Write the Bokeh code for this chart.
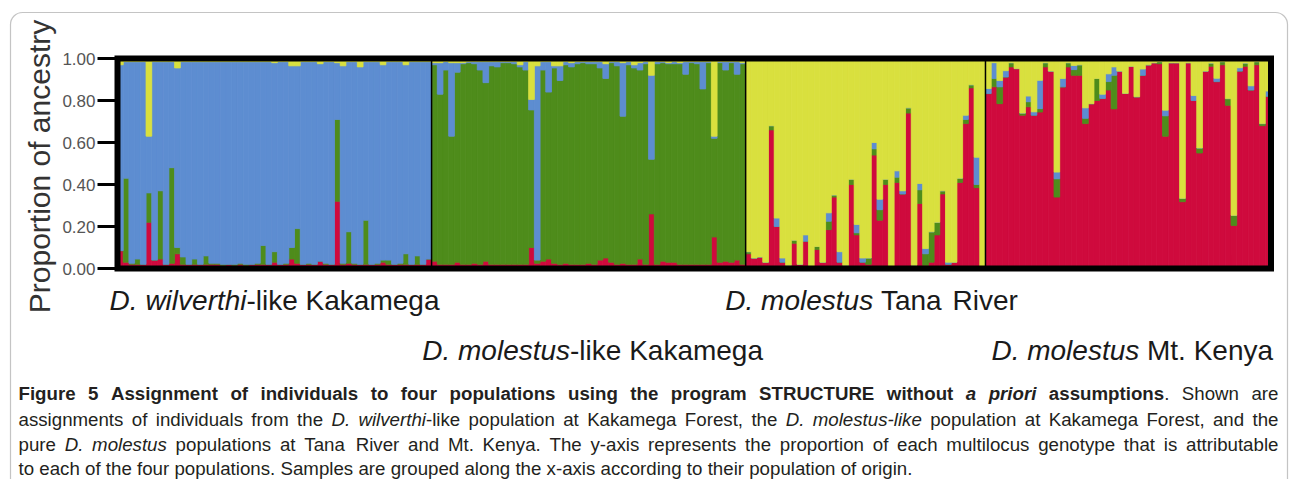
import numpy as np
from bokeh.plotting import figure
from bokeh.models import ColumnDataSource, Range1d, BoxAnnotation
from bokeh.core.properties import value
from bokeh.embed import file_html
from bokeh.resources import INLINE

# ---------------- data (ancestry proportions per individual) ----------------
POP_LABELS = [[("D. wilverthi", "i"), ("-like Kakamega", "r")],
              [("D. molestus", "i"), ("-like Kakamega", "r")],
              [("D. molestus", "i"), (" Tana River", "r")],
              [("D. molestus", "i"), (" Mt. Kenya", "r")]]
CLUSTERS = ["red", "green", "blue", "yellow"]   # stacking order, bottom -> top
TICKS = [0.0, 0.2, 0.4, 0.6, 0.8, 1.0]
TICK_LABELS = ["0.00", "0.20", "0.40", "0.60", "0.80", "1.00"]
Y_TITLE = "Proportion of ancestry"

# Population 1: D. wilverthi-like Kakamega (blue = remainder)
wil_red = [.085, .030, .020, .020, .020, .220, .040, .045, .020, .025, .070, .020, .020, .020,
           .020, .020, .020, .020, .015, .020, .015, .020, .015, .020, .020, .020, .020, .030,
           .020, .020, .045, .025, .020, .020, .020, .035, .020, .020, .320, .020, .025, .020,
           .020, .020, .020, .020, .030, .020, .020, .020, .020, .020, .020, .020, .045]
wil_green = [.000, .400, .005, .025, .000, .140, .000, .325, .000, .455, .030, .035, .000, .025,
             .000, .040, .005, .005, .005, .000, .005, .005, .005, .000, .005, .090, .000, .050,
             .000, .005, .055, .165, .000, .005, .000, .000, .005, .000, .390, .005, .150, .005,
             .000, .210, .000, .005, .010, .020, .000, .005, .050, .000, .040, .000, .000]
wil_yellow = [.030, .015, .015, .015, .015, .370, .015, .015, .015, .015, .045, .015, .015, .015,
              .015, .015, .015, .015, .015, .015, .015, .015, .015, .015, .015, .015, .015, .020,
              .015, .015, .035, .035, .015, .015, .015, .025, .015, .015, .020, .035, .015, .015,
              .040, .015, .015, .015, .030, .015, .015, .015, .030, .015, .015, .015, .015]

# Population 2: D. molestus-like Kakamega (green = remainder)
mlk_red = [.035, .020, .020, .020, .030, .020, .020, .025, .020, .035, .020, .020, .020, .020,
           .020, .020, .020, .100, .025, .035, .045, .025, .020, .025, .020, .020, .020, .025,
           .020, .040, .050, .030, .020, .025, .020, .020, .045, .020, .260, .020, .035, .030,
           .030, .020, .020, .020, .020, .020, .020, .150, .030, .035, .030, .040, .020]
mlk_blue = [.010, .150, .040, .350, .045, .005, .005, .010, .040, .100, .020, .025, .005, .005,
            .010, .010, .040, .050, .925, .040, .145, .010, .070, .015, .020, .010, .005, .010,
            .010, .030, .070, .005, .020, .255, .015, .015, .035, .010, .400, .010, .005, .005,
            .010, .005, .060, .005, .010, .130, .005, .010, .005, .040, .005, .060, .005]
mlk_yellow = [.020, .020, .015, .020, .020, .020, .015, .015, .015, .015, .015, .015, .015, .015,
              .015, .030, .015, .195, .035, .015, .015, .035, .035, .015, .020, .015, .015, .015,
              .015, .015, .025, .015, .015, .020, .015, .030, .020, .015, .080, .015, .015, .020,
              .015, .020, .015, .015, .015, .015, .015, .370, .015, .015, .015, .015, .020]

# Population 3: D. molestus Tana River (yellow = remainder)
tana_red = [.070, .050, .055, .030, .660, .200, .030, .015, .120, .020, .130, .010, .090, .030,
            .185, .340, .030, .015, .400, .160, .030, .020, .540, .230, .400, .010, .410, .355,
            .740, .015, .310, .015, .030, .160, .355, .020, .030, .410, .690, .860, .385, .000]
tana_green = [.010, .000, .000, .000, .020, .000, .000, .000, .015, .000, .000, .000, .015, .000,
              .040, .010, .000, .000, .025, .010, .000, .030, .030, .050, .025, .000, .025, .000,
              .025, .000, .065, .055, .145, .060, .015, .000, .000, .020, .020, .015, .015, .000]
tana_blue = [.000, .000, .000, .000, .000, .040, .020, .000, .000, .000, .030, .000, .000, .000,
             .040, .000, .050, .000, .000, .040, .020, .000, .030, .050, .000, .000, .030, .015,
             .000, .000, .030, .025, .000, .000, .000, .010, .000, .000, .020, .000, .130, .000]

# Population 4: D. molestus Mt. Kenya (yellow = remainder)
ken_red = [.833, .865, .785, .912, .960, .952, .730, .770, .730, .745, .960, .940, .340, .865,
           .960, .920, .920, .690, .785, .800, .810, .850, .760, .940, .834, .963, .818, .920,
           .970, .980, .975, .630, .980, .980, .318, .980, .800, .550, .940, .963, .890, .970,
           .777, .205, .940, .963, .850, .970, .680, .820]
ken_green = [.000, .040, .080, .000, .020, .000, .010, .024, .000, .016, .020, .000, .087, .000,
             .020, .027, .050, .025, .000, .105, .000, .040, .160, .000, .000, .000, .000, .000,
             .000, .000, .010, .097, .000, .000, .016, .000, .000, .024, .000, .015, .000, .015,
             .032, .048, .000, .015, .000, .015, .010, .000]
ken_blue = [.024, .075, .030, .030, .000, .000, .000, .027, .016, .135, .000, .000, .032, .040,
            .000, .020, .000, .050, .000, .000, .020, .037, .040, .000, .000, .000, .000, .030,
            .000, .000, .000, .027, .000, .000, .000, .000, .024, .000, .000, .000, .016, .000,
            .000, .000, .016, .000, .020, .000, .000, .025]

CAPTION = [
    [("Figure 5 Assignment of individuals to four populations using the program STRUCTURE without ", "b"),
     ("a priori", "bi"), (" assumptions", "b"), (". Shown are", "r")],
    [("assignments of individuals from the ", "r"), ("D. wilverthi", "i"),
     ("-like population at Kakamega Forest, the ", "r"), ("D. molestus-like", "i"),
     (" population at Kakamega Forest, and the", "r")],
    [("pure ", "r"), ("D. molestus", "i"),
     (" populations at Tana River and Mt. Kenya. The y-axis represents the proportion of each "
      "multilocus genotype that is attributable", "r")],
    [("to each of the four populations. Samples are grouped along the x-axis according to their "
      "population of origin.", "r")],
]

# ---------------- assemble the Q-matrix ----------------
def rest(*cols):
    return list(1.0 - np.sum(np.array(cols), axis=0))

pops = [
    dict(red=wil_red, green=wil_green, blue=rest(wil_red, wil_green, wil_yellow), yellow=wil_yellow),
    dict(red=mlk_red, green=rest(mlk_red, mlk_blue, mlk_yellow), blue=mlk_blue, yellow=mlk_yellow),
    dict(red=tana_red, green=tana_green, blue=tana_blue, yellow=rest(tana_red, tana_green, tana_blue)),
    dict(red=ken_red, green=ken_green, blue=ken_blue, yellow=rest(ken_red, ken_green, ken_blue)),
]
sizes = [len(p["red"]) for p in pops]
N = sum(sizes)
data = {c: np.concatenate([p[c] for p in pops]) for c in CLUSTERS}
data["x"] = np.arange(N)
src = ColumnDataSource(data)

COLORS = {"red": "#CF0A3D", "green": "#4E8C1B", "blue": "#5D8DD1", "yellow": "#D9E03E"}

# ---------------- layout (pixel box of the structure plot on the canvas) ----------------
W, H = 1290, 479
BOX_L, BOX_R, BOX_T, BOX_B = 117.0, 1270.5, 58.0, 268.0
UX = (BOX_R - BOX_L) / N          # px per individual
UY = BOX_B - BOX_T                # px per unit proportion
FONT = "Liberation Sans"
BASE_FIX = 0.37                   # svg text sits this many em below the requested baseline


def dx(px):
    return -0.5 + (px - BOX_L) / UX


def dy(py):
    return (BOX_B - py) / UY


p = figure(width=W, height=H, x_range=Range1d(dx(0), dx(W)), y_range=Range1d(dy(H), dy(0)),
           output_backend="svg", toolbar_location=None,
           x_axis_location=None, y_axis_location=None, min_border=0)
p.grid.visible = False
p.outline_line_color = None
p.background_fill_color = "white"
p.border_fill_color = "white"

# stacked bars
p.vbar_stack(CLUSTERS, x="x", width=1.0, source=src,
             fill_color=[COLORS[c] for c in CLUSTERS],
             line_color=[COLORS[c] for c in CLUSTERS], line_width=0.8)

# population separators
cum = np.cumsum(sizes)
p.segment(x0=cum[:-1] - 0.5, x1=cum[:-1] - 0.5, y0=0, y1=1, line_color="black", line_width=1.5)

# heavy black plot frame
p.quad(left=[-0.5], right=[N - 0.5], bottom=[0], top=[1], fill_color=None,
       line_color="black", line_width=6, line_join="miter")

# y axis: ticks, tick labels, title
p.segment(x0=dx(97), x1=-0.5, y0=TICKS, y1=TICKS, line_color="black", line_width=3)
p.text(x=dx(95), y=TICKS, text=TICK_LABELS, text_align="right", text_baseline="middle",
       text_font=value(FONT), text_font_size=value("17px"), text_color="#555555")
TITLE_SIZE = 30
p.text(x=[dx(50 - BASE_FIX * TITLE_SIZE)], y=[dy(166)], text=[Y_TITLE], angle=np.pi / 2,
       text_align="center", text_baseline="alphabetic", text_font=value(FONT),
       text_font_size=value(f"{TITLE_SIZE}px"), text_color="#333333")

# ---------------- text helpers (Arial / Liberation Sans advance widths) ----------------
UP = "ABCDEFGHIJKLMNOPQRSTUVWXYZ"
LO = "abcdefghijklmnopqrstuvwxyz"
AR = dict(zip(UP, [667, 667, 722, 722, 667, 611, 778, 722, 278, 500, 667, 556, 833, 722, 778, 667,
                   778, 722, 667, 611, 722, 667, 944, 667, 667, 611]))
AR.update(zip(LO, [556, 556, 500, 556, 556, 278, 556, 556, 222, 222, 500, 222, 833, 556, 556, 556,
                   556, 333, 500, 278, 556, 500, 722, 500, 500, 500]))
ARB = dict(zip(UP, [722, 722, 722, 722, 667, 611, 778, 722, 278, 556, 722, 611, 833, 722, 778, 667,
                    778, 722, 667, 611, 722, 667, 944, 667, 667, 611]))
ARB.update(zip(LO, [556, 611, 556, 611, 556, 333, 611, 611, 278, 278, 556, 278, 889, 611, 611, 611,
                    611, 389, 556, 333, 611, 556, 778, 556, 556, 500]))
for t in (AR, ARB):
    t.update({c: 556 for c in "0123456789"})
    t.update({" ": 278, ".": 278, ",": 278, "-": 333})

STYLE = {"r": "normal", "i": "italic", "b": "bold", "bi": "bold italic"}
pieces = []   # (px, baseline py, text, style, size, color)


def tw(s, style, size):
    tab = ARB if "b" in style else AR
    return sum(tab.get(c, 556) for c in s) * size / 1000.0


def tokenize(segs):
    toks = [[]]
    for text, style in segs:
        parts = text.split(" ")
        for i, part in enumerate(parts):
            if i > 0:
                toks.append([])
            if part:
                toks[-1].append((part, style))
    return [t for t in toks if t]


def set_line(segs, x0, y, size, color, x1=None, center=None):
    toks = tokenize(segs)
    widths = [sum(tw(s, st, size) for s, st in t) for t in toks]
    if x1 is None or len(toks) < 2:
        gap = tw(" ", "r", size)
    else:
        gap = (x1 - x0 - sum(widths)) / (len(toks) - 1)
    if center is not None:
        x0 = center - (sum(widths) + gap * (len(toks) - 1)) / 2.0
    x = x0
    for t, w in zip(toks, widths):
        xx = x
        for s, st in t:
            pieces.append((xx, y, s, st, size, color))
            xx += tw(s, st, size)
        x += w + gap

# population labels, centred under each population
LAB_SIZE = 28
lab_rows = [310, 360, 310, 360]
lab_shift = [0, 4, 6, 4]
starts = np.concatenate([[0], cum[:-1]])
for segs, row, s0, n, sh in zip(POP_LABELS, lab_rows, starts, sizes, lab_shift):
    center = BOX_L + (s0 + n / 2.0) * UX + sh
    set_line(segs, 0, row, LAB_SIZE, "#1A1A1A", center=center)

# caption (first three lines justified)
CAP = 18.7
cap_y = [400, 425.5, 451, 474.5]
for i, segs in enumerate(CAPTION):
    set_line(segs, 18, cap_y[i], CAP, "#231F20", 1278 if i < 3 else None)

groups = {}
for px, py, s, st, size, color in pieces:
    groups.setdefault((st, size, color), []).append((dx(px), dy(py - BASE_FIX * size), s))
for (st, size, color), rows in groups.items():
    xs, ys, ts = zip(*rows)
    p.text(x=list(xs), y=list(ys), text=list(ts), text_align="left", text_baseline="alphabetic",
           text_font=value(FONT), text_font_size=value(f"{size}px"),
           text_font_style=value(STYLE[st]), text_color=color)

# outer rounded frame of the figure panel
p.add_layout(BoxAnnotation(left=dx(10), right=dx(1287), top=dy(12), bottom=dy(495),
                           fill_color=None, fill_alpha=0, line_color="#3A3A3A", line_width=1.2,
                           border_radius=12))

open("out.html", "w").write(file_html(p, INLINE))
